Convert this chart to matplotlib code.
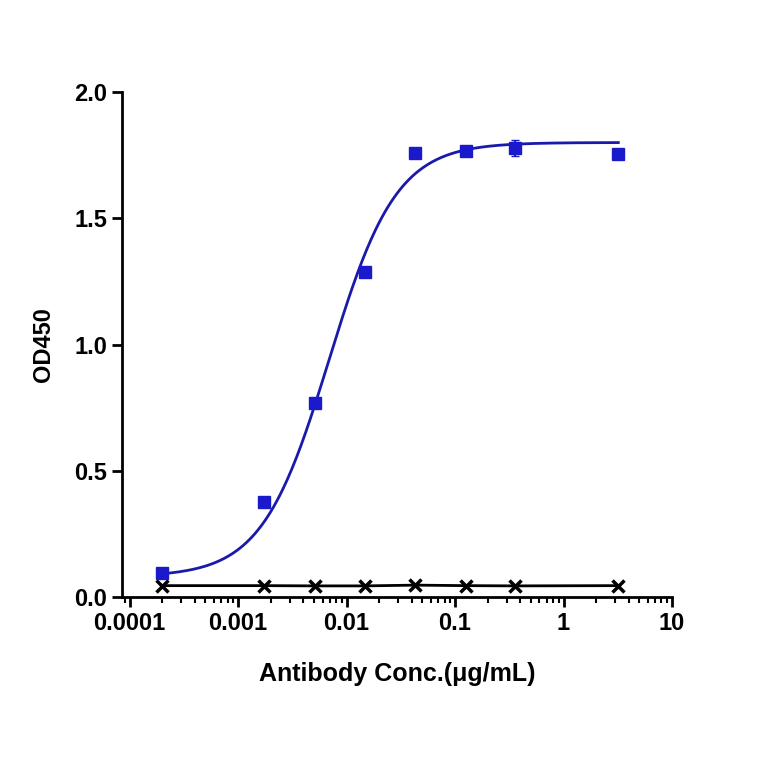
import numpy as np
import matplotlib
matplotlib.use("Agg")
import matplotlib.pyplot as plt
from matplotlib.ticker import LogLocator, NullFormatter

conc = [0.000200, 0.00174, 0.0051, 0.0147, 0.043, 0.126, 0.36, 3.2]
od_sample = [0.095, 0.376, 0.768, 1.287, 1.758, 1.766, 1.778, 1.754]
err_sample = [0.01, 0.01, 0.01, 0.01, 0.01, 0.01, 0.03, 0.01]
od_ctrl = [0.045, 0.045, 0.044, 0.044, 0.047, 0.045, 0.044, 0.045]
# 4PL fit parameters
bottom, top, ec50, hill = 0.08, 1.80, 0.0069, 1.4

plt.rcParams['font.family'] = ['Liberation Sans', 'DejaVu Sans']
fig = plt.figure(figsize=(7.64, 7.64), dpi=100)
ax = fig.add_axes([122/764, 1-597/764, (672-122)/764, (597-92)/764])

xf = np.logspace(np.log10(conc[0]), np.log10(conc[-1]), 300)
yf = bottom + (top-bottom)/(1+(ec50/xf)**hill)
ax.plot(xf, yf, color='#1a1aaa', lw=2)
ax.errorbar(conc, od_sample, yerr=err_sample, fmt='s', color='#1a1acc', ms=9, capsize=3, lw=1.5)
ax.plot(conc, od_ctrl, color='black', lw=2, marker='x', ms=8, mew=2.5)

ax.set_xscale('log')
ax.set_xlim(8.5e-5, 10)
ax.set_ylim(0, 2.0)
ax.set_xticks([1e-4, 1e-3, 1e-2, 1e-1, 1, 10])
ax.set_xticklabels(['0.0001', '0.001', '0.01', '0.1', '1', '10'])
ax.xaxis.set_minor_locator(LogLocator(base=10, subs=np.arange(2, 10), numticks=20))
ax.xaxis.set_minor_formatter(NullFormatter())
ax.set_yticks([0, 0.5, 1.0, 1.5, 2.0])
ax.set_yticklabels(['0.0', '0.5', '1.0', '1.5', '2.0'])
for s in ['top', 'right']:
    ax.spines[s].set_visible(False)
for s in ['left', 'bottom']:
    ax.spines[s].set_linewidth(2)
ax.tick_params(which='major', length=7, width=2, labelsize=17)
ax.tick_params(which='minor', length=4, width=1.5)
for l in ax.get_xticklabels() + ax.get_yticklabels():
    l.set_fontweight('bold')
ax.set_xlabel('Antibody Conc.(μg/mL)', fontsize=18, fontweight='bold', labelpad=20)
ax.set_ylabel('OD450', fontsize=17, fontweight='bold', labelpad=14)
fig.savefig('out.png', dpi=100)
